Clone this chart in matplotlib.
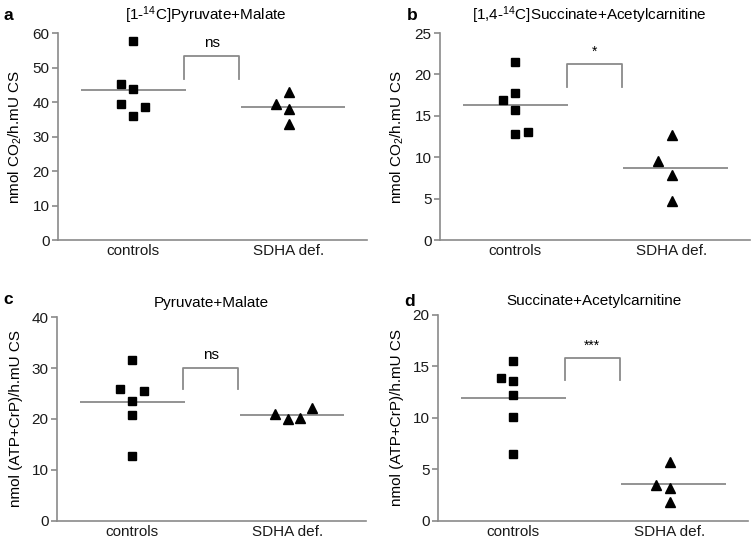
import numpy as np
import matplotlib
matplotlib.use("Agg")
import matplotlib.pyplot as plt

plt.rcParams['font.family'] = ['Liberation Sans', 'DejaVu Sans']
plt.rcParams['mathtext.fontset'] = 'custom'
plt.rcParams['mathtext.rm'] = 'Liberation Sans'
plt.rcParams['mathtext.it'] = 'Liberation Sans'

# groups on the x axis
groups = ["controls", "SDHA def."]

# panel a: [1-14C]Pyruvate+Malate (nmol CO2/h.mU CS)
a_controls = [57.8, 45.3, 43.9, 39.3, 38.7, 36.0]
a_sdha = [42.9, 39.5, 37.9, 33.5]

# panel b: [1,4-14C]Succinate+Acetylcarnitine (nmol CO2/h.mU CS)
b_controls = [21.5, 16.9, 17.8, 15.7, 12.8, 13.1]
b_sdha = [12.7, 9.6, 7.9, 4.7]

# panel c: Pyruvate+Malate (nmol (ATP+CrP)/h.mU CS)
c_controls = [31.6, 25.8, 25.4, 23.5, 20.8, 12.7]
c_sdha = [20.9, 19.9, 20.1, 22.1]

# panel d: Succinate+Acetylcarnitine (nmol (ATP+CrP)/h.mU CS)
d_controls = [15.5, 13.9, 13.6, 12.2, 10.1, 6.5]
d_sdha = [5.7, 3.5, 3.2, 1.8]

# horizontal spread of the points so they do not overlap
ctrl_offsets_a = [0.0, -0.075, 0.0, -0.075, 0.08, 0.0]
ctrl_offsets_b = [0.0, -0.075, 0.0, 0.0, 0.0, 0.08]
ctrl_offsets_c = [0.0, -0.075, 0.08, 0.0, 0.0, 0.0]
ctrl_offsets_d = [0.0, -0.075, 0.0, 0.0, 0.0, 0.0]
sdha_offsets = [0.0, -0.085, 0.0, 0.0]
sdha_offsets_c = [-0.085, 0.0, 0.077, 0.154]
sdha_offsets_d = [0.0, -0.085, 0.0, 0.0]

titles = ["[1-$^{14}$C]Pyruvate+Malate", "[1,4-$^{14}$C]Succinate+Acetylcarnitine",
          "Pyruvate+Malate", "Succinate+Acetylcarnitine"]
ylabels = ["nmol CO$_2$/h.mU CS", "nmol CO$_2$/h.mU CS",
           "nmol (ATP+CrP)/h.mU CS", "nmol (ATP+CrP)/h.mU CS"]
signif = ["ns", "*", "ns", "***"]
bracket_top = [53.5, 21.3, 30.1, 15.8]
bracket_bottom = [46.7, 18.5, 25.8, 13.7]
ymax = [60, 25, 40, 20]
ystep = [10, 5, 10, 5]
letters = ["a", "b", "c", "d"]

panels = [
    (a_controls, a_sdha, ctrl_offsets_a, sdha_offsets),
    (b_controls, b_sdha, ctrl_offsets_b, sdha_offsets),
    (c_controls, c_sdha, ctrl_offsets_c, sdha_offsets_c),
    (d_controls, d_sdha, ctrl_offsets_d, sdha_offsets_d),
]

# axes rectangles (figure fraction)
rects = [
    [0.0772, 0.558, 0.4115, 0.381],
    [0.5859, 0.558, 0.4128, 0.381],
    [0.0759, 0.041, 0.4115, 0.375],
    [0.5832, 0.041, 0.4128, 0.379],
]
title_x = [0.48, 0.48, 0.5, 0.503]
letter_pos = [(0.004, 0.985), (0.542, 0.985), (0.004, 0.462), (0.538, 0.458)]

gray = "#8a8a8a"

fig = plt.figure(figsize=(7.51, 5.43), dpi=100)

for i, (ctrl, sdha, off_c, off_s) in enumerate(panels):
    ax = fig.add_axes(rects[i])
    xc = np.zeros(len(ctrl)) + np.array(off_c)
    xs = np.ones(len(sdha)) + np.array(off_s)
    ax.plot(xc, ctrl, 's', color='black', ms=5.6, zorder=3)
    ax.plot(xs, sdha, '^', color='black', ms=6.8, zorder=3)

    # mean lines
    ax.hlines(np.mean(ctrl), -0.33, 0.34, color=gray, lw=1.3, zorder=2)
    ax.hlines(np.mean(sdha), 0.69, 1.36, color=gray, lw=1.3, zorder=2)

    # significance bracket
    bx = [0.33, 0.33, 0.68, 0.68]
    by = [bracket_bottom[i], bracket_top[i], bracket_top[i], bracket_bottom[i]]
    ax.plot(bx, by, color=gray, lw=1.3)
    ax.text(0.505, bracket_top[i] + ymax[i] * 0.025, signif[i], ha='center', va='bottom',
            fontsize=11 if signif[i] == "ns" else 10)

    ax.set_xlim(-0.48, 1.5)
    ax.set_ylim(0, ymax[i])
    ax.set_yticks(np.arange(0, ymax[i] + 1, ystep[i]))
    ax.set_xticks([0, 1])
    ax.set_xticklabels(groups)
    for s in ['top', 'right']:
        ax.spines[s].set_visible(False)
    for s in ['left', 'bottom']:
        ax.spines[s].set_color(gray)
        ax.spines[s].set_linewidth(1.2)
    ax.tick_params(axis='y', colors=gray, labelcolor='#1a1a1a', length=4, width=1.2,
                   labelsize=11, pad=2)
    ax.tick_params(axis='x', length=0, labelsize=11, pad=3, labelcolor='#1a1a1a')
    ax.set_ylabel(ylabels[i], fontsize=11, labelpad=6)
    ax.text(title_x[i], 1.035, titles[i], transform=ax.transAxes, ha='center',
            va='bottom', fontsize=11)
    fig.text(letter_pos[i][0], letter_pos[i][1], letters[i], fontsize=12.5,
             fontweight='bold', ha='left', va='top')

fig.savefig("out.png", dpi=100)
